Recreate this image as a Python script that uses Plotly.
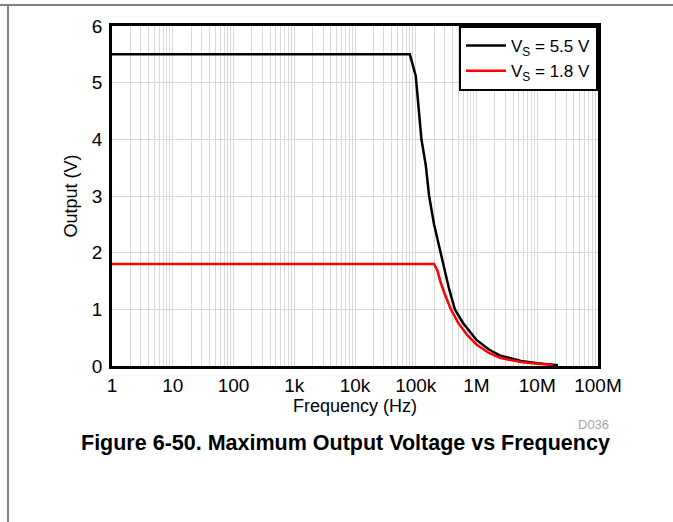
import plotly.graph_objects as go

# Data
freq_55 = [1, 8.0e4, 1.0e5, 1.1e5, 1.24e5, 1.46e5, 1.66e5, 2.0e5, 2.58e5, 3.0e5, 3.5e5, 4.4e5, 6.0e5, 1.0e6, 1.6e6, 2.5e6, 5.4e6, 1.0e7, 2.2e7]
vout_55 = [5.5, 5.5, 5.12, 4.55, 4.0, 3.55, 3.0, 2.5, 2.0, 1.68, 1.38, 1.0, 0.76, 0.46, 0.29, 0.18, 0.09, 0.05, 0.015]
freq_18 = [1, 2.0e5, 2.28e5, 2.6e5, 3.0e5, 3.78e5, 5.0e5, 7.13e5, 1.0e6, 1.6e6, 2.5e6, 5.4e6, 1.0e7, 1.8e7]
vout_18 = [1.8, 1.8, 1.68, 1.46, 1.27, 1.0, 0.76, 0.54, 0.38, 0.23, 0.14, 0.07, 0.04, 0.02]

decade_vals = [1, 10, 100, 1e3, 1e4, 1e5, 1e6, 1e7, 1e8]
decade_labels = ["1", "10", "100", "1k", "10k", "100k", "1M", "10M", "100M"]
y_ticks = [0, 1, 2, 3, 4, 5, 6]

minor_vals = []
for d in decade_vals[:-1]:
    for m in range(2, 10):
        minor_vals.append(d * m)

FONT = "Liberation Sans, Arial, sans-serif"
GRID = "#d9d9d9"

fig = go.Figure()
fig.add_trace(go.Scatter(x=freq_55, y=vout_55, mode="lines",
                         line=dict(color="black", width=2.5),
                         name="V<sub>S</sub> = 5.5 V"))
fig.add_trace(go.Scatter(x=freq_18, y=vout_18, mode="lines",
                         line=dict(color="#ff0000", width=2.5),
                         name="V<sub>S</sub> = 1.8 V"))

L, R, T, B = 112, 598, 26, 366
W, H = 673, 522

fig.update_layout(
    width=W, height=H,
    margin=dict(l=L, r=W - R, t=T, b=H - B, pad=0),
    paper_bgcolor="white", plot_bgcolor="white",
    font=dict(family=FONT, size=19, color="black"),
    showlegend=True,
    legend=dict(x=1, y=1, xanchor="right", yanchor="top",
                bgcolor="white", bordercolor="black", borderwidth=2,
                font=dict(size=17), tracegroupgap=0, itemwidth=40),
)

fig.update_xaxes(type="log", range=[0, 8], tickvals=decade_vals, ticktext=decade_labels,
                 showgrid=True, gridcolor=GRID, gridwidth=1,
                 minor=dict(tickvals=minor_vals, showgrid=True, gridcolor=GRID, gridwidth=1, ticks=""),
                 showline=True, linecolor="black", linewidth=2.5, mirror=True,
                 ticks="", ticklabelstandoff=0,
                 title=dict(text="Frequency (Hz)", standoff=0, font=dict(size=18)),
                 zeroline=False)
fig.update_yaxes(range=[0, 6], tickvals=y_ticks,
                 showgrid=True, gridcolor=GRID, gridwidth=1,
                 showline=True, linecolor="black", linewidth=2.5, mirror=True,
                 ticks="", ticklabelstandoff=3,
                 title=dict(text="Output (V)", standoff=10, font=dict(size=18)),
                 zeroline=False)

ph = B - T
pw = R - L
def px(x):
    return (x - L) / pw
def py(y):
    return (B - y) / ph

# page decoration lines
fig.add_shape(type="line", xref="paper", yref="paper", x0=px(0), x1=px(673), y0=py(5), y1=py(5),
              line=dict(color="#808080", width=2))
fig.add_shape(type="line", xref="paper", yref="paper", x0=px(8), x1=px(8), y0=py(5), y1=py(522),
              line=dict(color="#808080", width=2))

fig.add_annotation(xref="paper", yref="paper", x=px(611), y=py(424), text="D036",
                   showarrow=False, xanchor="right", yanchor="middle",
                   font=dict(size=13, color="#a6a6a6", family=FONT))
fig.add_annotation(xref="paper", yref="paper", x=px(345), y=py(443),
                   text="<b>Figure 6-50. Maximum Output Voltage vs Frequency</b>",
                   showarrow=False, xanchor="center", yanchor="middle",
                   font=dict(size=21.5, color="black", family=FONT))

fig.write_html("out.html", config={"displayModeBar": False},
               post_script="document.body.style.margin='0';")
